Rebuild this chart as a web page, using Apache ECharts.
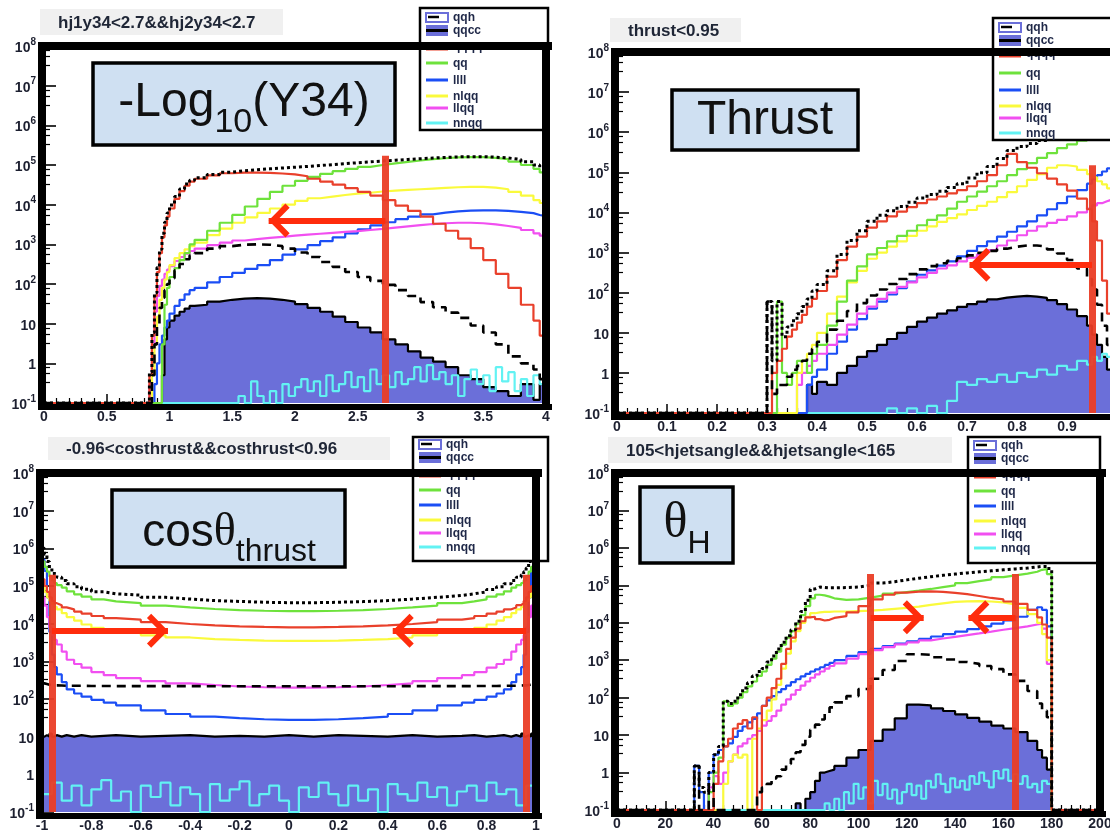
<!DOCTYPE html>
<html>
<head>
<meta charset="utf-8">
<title>Higgs selection cut distributions</title>
<script src="https://cdn.jsdelivr.net/npm/echarts@6/dist/echarts.min.js"></script>
<style>
html,body{margin:0;padding:0;background:#ffffff;}
#chart{width:1110px;height:834px;}
</style>
</head>
<body>
<div id="chart"></div>
<script>
// ================= DATA =================
const LEGEND_NAMES = ['qqh', 'qqcc', 'qqqq', 'qq', 'llll', 'nlqq', 'llqq', 'nnqq'];
const PANEL_TITLES = ['hj1y34<2.7&&hj2y34<2.7', 'thrust<0.95', '-0.96<costhrust&&costhrust<0.96', '105<hjetsangle&&hjetsangle<165'];
const X_RANGES = [[0, 4, 0.5], [0, 1, 0.1], [-1, 1, 0.2], [0, 200, 20]];
const Y_RANGE = [0.1, 1e8];
const CUT_LINES = [[2.72], [0.95], [-0.96, 0.96], [105, 165]];
const CUT_TOPS = [170000, 150000, 200000, 200000];
const ARROWS = [[[2.72, 1.79, 4000]], [[0.95, 0.705, 500]], [[-0.96, -0.49, 6500], [0.96, 0.42, 6500]], [[105, 127, 14000], [165, 145.5, 14000]]];

// ---- Panel 1 : -log10(Y34) ----
const P1_X = [0,0.84,0.86,0.88,0.9,0.92,0.94,0.96,0.98,1.0,1.04,1.08,1.12,1.16,1.2,1.3,1.4,1.5,1.6,1.7,1.8,1.9,2.0,2.1,2.2,2.3,2.4,2.5,2.6,2.7,2.8,2.9,3.0,3.1,3.2,3.3,3.4,3.5,3.6,3.7,3.8,3.9,3.95,4.0];
const P1_TOTAL = [0.1,0.6,6,60,260,750,1900,3600,6200,9800,16000,25000,33000,41000,48000,58000,66000,72000,76000,80000,84000,88000,92000,97000,102000,108000,114000,120000,126000,132000,138000,144000,150000,155000,160000,162000,162000,158000,150000,138000,120000,100000,85000,85000];
const P1_QQQQ = [0.1,0.5,5,50,200,600,1500,3000,5000,8000,14000,22000,30000,38000,45000,55000,62000,64000,64000,63000,61000,58000,52000,45000,38000,32000,26000,21000,17000,13000,9500,7000,5000,3300,2200,1400,800,400,180,80,30,12,5,5];
const P1_QQ = [0.1,0.1,0.1,0.1,0.1,0.1,3,30,80,150,250,400,600,1000,1300,2200,3500,5500,9000,14000,21000,30000,40000,50000,60000,70000,80000,90000,100000,110000,120000,130000,140000,148000,155000,158000,158000,152000,140000,122000,100000,80000,65000,60000];
const P1_NLQQ = [0.1,0.1,0.5,3,15,40,80,130,200,300,450,600,750,900,1100,1700,2500,3500,4800,6200,8000,10000,12500,14500,16000,17500,19000,20000,21500,22500,23500,24500,25500,26500,27500,28000,28000,27000,24500,21000,17000,13000,11000,10000];
const P1_LLQQ = [0.1,0.3,3,20,50,90,130,180,230,280,380,480,580,680,780,950,1100,1250,1350,1450,1550,1650,1750,1850,1950,2050,2150,2300,2450,2650,2850,3050,3250,3400,3500,3500,3400,3200,2900,2600,2300,1900,1650,1600];
const P1_LLLL = [0.1,0.1,0.1,0.3,1,3,5,8,12,18,28,40,55,70,80,110,150,190,240,300,400,550,750,950,1200,1500,1900,2400,3000,3600,4300,5000,5700,6300,6800,7100,7200,7200,7000,6600,6100,5500,5100,5000];
const P1_QQH = [0.1,0.1,0.5,3,10,25,45,70,100,140,220,320,420,520,600,780,900,980,1000,980,900,780,620,480,360,270,200,150,120,95,70,50,35,26,19,14,9,6,3,1.5,1,0.7,0.4,0.4];
const P1_QQCC = [0.1,0.1,0.1,0.1,0.1,0.1,0.5,4,8,12,16,20,24,28,30,36,40,43,44,43,40,36,31,25,20,15,11,8,6,4,3,2,1.4,1.1,0.8,0.5,0.4,0.25,0.2,0.15,0.3,0.12,0.3,0.3];
const P1_NNQQ_X = [0,1.5,1.55,1.6,1.65,1.7,1.75,1.8,1.85,1.9,1.95,2.0,2.05,2.1,2.15,2.2,2.25,2.3,2.35,2.4,2.45,2.5,2.55,2.6,2.65,2.7,2.75,2.8,2.85,2.9,2.95,3.0,3.05,3.1,3.15,3.2,3.25,3.3,3.35,3.4,3.45,3.5,3.55,3.6,3.65,3.7,3.75,3.8,3.85,3.9,3.95,4.0];
const P1_NNQQ = [0.1,0.1,0.15,0.1,0.35,0.15,0.1,0.2,0.1,0.3,0.15,0.25,0.4,0.2,0.35,0.15,0.5,0.2,0.3,0.6,0.25,0.45,0.2,0.7,0.3,0.5,0.25,0.6,0.3,0.4,0.8,0.35,0.9,0.4,0.6,0.3,0.5,0.15,0.4,0.7,0.3,0.5,0.2,0.8,0.35,0.6,0.2,0.4,0.15,0.5,0.3,0.3];

// ---- Panel 2 : thrust ----
const P2_X = [0,0.30,0.31,0.32,0.33,0.34,0.35,0.36,0.37,0.38,0.39,0.40,0.42,0.44,0.46,0.48,0.50,0.52,0.54,0.56,0.58,0.60,0.62,0.64,0.66,0.68,0.70,0.72,0.74,0.76,0.78,0.80,0.82,0.84,0.86,0.88,0.90,0.92,0.94,0.95,0.96,0.97,0.98,0.99,1.00];
const P2_TOTAL = [0.1,60,2,60,8,14,20,30,45,70,110,160,350,900,2000,3500,6000,8500,11000,14000,18000,23000,28000,34000,42000,52000,72000,98000,140000,220000,350000,440000,520000,620000,760000,900000,1050000,1250000,1450000,1600000,1750000,1900000,2050000,2200000,2200000];
const P2_QQQQ = [0.1,0.1,1,2,4,8,12,18,28,45,70,110,250,650,1400,2500,4200,6000,8000,10500,13500,17000,21000,25000,30000,36000,45000,60000,85000,150000,290000,180000,130000,95000,70000,50000,35000,22000,12000,6000,2000,200,30,10,10];
const P2_QQ = [0.1,0.1,0.1,60,1,0.5,1,2,2,1,3,5,15,60,200,450,900,1300,1900,2600,3500,4800,6500,8500,12500,18500,25000,33000,45000,60000,85000,120000,170000,230000,300000,400000,500000,620000,800000,950000,1100000,1250000,1400000,1600000,1600000];
const P2_NLQQ = [0.1,0.1,0.1,0.1,0.1,0.1,0.1,1,2,3,5,10,30,80,180,350,700,1000,1400,1900,2600,3500,4500,5800,7200,9000,11500,14500,18500,24000,32000,45000,65000,90000,130000,150000,140000,115000,90000,75000,60000,50000,40000,35000,35000];
const P2_LLQQ = [0.1,0.1,0.1,0.1,0.1,0.1,0.1,0.5,1,1.5,2,3,5,9,16,30,45,70,100,140,180,240,310,400,480,600,750,900,1150,1500,2000,2700,3500,4500,5500,6500,8000,10000,12500,15000,17000,19000,21000,23000,23000];
const P2_LLLL = [0.1,0.1,0.1,0.1,0.1,0.1,0.1,0.1,0.1,0.5,0.8,1.2,3,6,12,22,40,60,90,130,190,280,360,470,600,800,1100,1450,1900,2500,3300,4500,6000,8500,12000,17000,25000,36000,52000,68000,85000,105000,125000,150000,150000];
const P2_QQH = [0.1,60,0.3,0.5,0.5,0.8,1.2,1.5,2,3,4,6,12,20,35,55,85,120,165,220,290,380,460,540,620,720,850,980,1100,1250,1400,1500,1500,1400,1200,950,650,400,220,120,50,15,5,2,2];
const P2_QQCC = [0.1,0.1,0.1,0.1,0.1,0.1,0.1,0.1,0.1,0.5,0.3,0.6,0.5,1,1.5,2.5,3.5,5,7,10,14,19,24,30,36,44,52,60,68,75,80,83,80,74,65,52,38,26,15,9,5,2.5,1.2,0.6,0.6];
const P2_NNQQ = [0.1,0.1,0.1,0.1,0.1,0.1,0.1,0.1,0.1,0.1,0.1,0.1,0.1,0.1,0.1,0.1,0.1,0.1,0.13,0.1,0.13,0.1,0.15,0.1,0.2,0.6,0.5,0.7,0.6,0.9,0.6,1,0.8,1.2,0.9,1.5,1.2,2,1.6,2.5,2,3,2.5,2.5,2.5];

// ---- Panel 3 : cos(theta_thrust) ----
const P3_X = [-1,-0.99,-0.98,-0.97,-0.96,-0.95,-0.94,-0.92,-0.9,-0.87,-0.84,-0.8,-0.75,-0.7,-0.6,-0.5,-0.4,-0.3,-0.2,-0.1,0,0.1,0.2,0.3,0.4,0.5,0.6,0.7,0.75,0.8,0.84,0.87,0.9,0.92,0.94,0.95,0.96,0.97,0.98,0.99,1.0];
const P3_TOTAL = [1000000,700000,450000,300000,240000,200000,170000,140000,115000,95000,82000,70000,62000,57000,50000,45000,41000,39000,37000,36000,36000,37000,38500,41000,45000,50000,56000,62000,70000,81000,95000,115000,140000,170000,200000,240000,300000,450000,700000,1000000,1000000];
const P3_QQ = [450000,320000,240000,180000,140000,120000,105000,90000,72000,60000,52000,44000,39000,35000,30000,27000,24500,23000,22000,21500,21500,22000,23000,24500,27000,30000,35000,39000,44000,52000,60000,72000,90000,105000,120000,140000,180000,240000,320000,450000,450000];
const P3_QQQQ = [150000,100000,70000,50000,40000,35000,31000,27000,24000,21000,18500,16000,14000,12800,11000,9800,9000,8500,8200,8000,8000,8200,8500,9000,9800,11000,12800,14000,16000,18500,21000,24000,27000,31000,35000,40000,50000,70000,100000,150000,150000];
const P3_NLQQ = [100000,70000,50000,40000,33000,28000,24000,19000,15000,12000,9500,7800,6600,5800,4900,4300,3900,3700,3550,3500,3500,3550,3700,3900,4300,4900,5800,6600,7800,9500,12000,15000,19000,24000,28000,33000,40000,50000,70000,100000,100000];
const P3_LLQQ = [50000,30000,15000,8000,5000,3700,2800,1800,1100,850,680,520,430,360,300,260,235,215,205,200,200,205,215,235,260,300,360,430,520,680,850,1100,1800,2800,3700,5000,8000,15000,30000,50000,50000];
const P3_LLLL = [500000,250000,50000,6000,1500,700,450,280,180,140,115,95,80,68,50,40,34,31,29,28,28,29,31,34,40,50,68,80,95,115,140,180,280,450,700,1500,6000,50000,250000,500000,500000];
const P3_QQH = [260,250,240,235,230,230,228,225,225,225,222,222,220,220,220,220,218,218,218,218,218,218,218,218,220,220,220,220,222,222,225,225,225,228,230,230,235,240,250,260,260];
const P3_QQCC = [10,11,10,12,10,11,10,11,10,11,10,10.5,11,10,10.5,11,10,10.5,10,11,10,11,10.5,10,11,10,10.5,11,10,10.5,11,10,11,10,12,10,11,10,12,10,10];
const P3_NNQQ_X = [-1,-0.96,-0.92,-0.88,-0.84,-0.8,-0.76,-0.72,-0.68,-0.64,-0.6,-0.56,-0.52,-0.48,-0.44,-0.4,-0.36,-0.32,-0.28,-0.24,-0.2,-0.16,-0.12,-0.08,-0.04,0,0.04,0.08,0.12,0.16,0.2,0.24,0.28,0.32,0.36,0.4,0.44,0.48,0.52,0.56,0.6,0.64,0.68,0.72,0.76,0.8,0.84,0.88,0.92,0.96,1.0];
const P3_NNQQ = [0.3,0.6,0.2,0.5,0.15,0.4,0.7,0.2,0.35,0.1,0.5,0.25,0.6,0.15,0.45,0.3,0.1,0.55,0.2,0.4,0.65,0.15,0.3,0.5,0.2,0.1,0.45,0.25,0.6,0.3,0.15,0.5,0.2,0.4,0.1,0.55,0.3,0.2,0.6,0.25,0.45,0.15,0.35,0.5,0.2,0.6,0.3,0.4,0.15,0.5,0.5];

// ---- Panel 4 : theta_H ----
const P4_X = [0,32,34,36,38,40,42,44,46,48,50,52,54,56,58,60,62,64,66,68,70,72,74,76,78,80,82,84,86,88,90,95,100,105,110,115,120,125,130,135,140,145,150,155,160,165,170,174,176,178,180,182,200];
const P4_TOTAL = [0.1,1.5,0.4,0.3,1,3,5,80,70,80,120,180,250,380,500,600,900,1300,2000,3000,4500,6500,11000,20000,40000,80000,90000,88000,86000,86000,87000,90000,100000,115000,125000,140000,155000,170000,185000,200000,215000,230000,245000,260000,275000,290000,310000,320000,320000,280000,0.1,0.1,0.1];
const P4_QQ = [0.1,0.1,0.1,0.1,0.3,1,2.5,80,60,70,100,140,200,270,380,500,750,1100,1700,2600,4000,6000,9500,16000,28000,45000,56000,54000,50000,45000,41000,42000,47000,53000,60000,66000,72000,80000,90000,100000,115000,130000,145000,165000,185000,205000,230000,260000,270000,200000,0.1,0.1,0.1];
const P4_QQQQ = [0.1,0.1,0.1,0.1,0.1,0.5,2,5,8,15,20,25,15,30,0.1,60,100,180,320,800,2000,4000,7000,11000,14000,14500,12500,11500,12000,13500,15000,19000,28000,42000,56000,64000,68000,69000,67000,63000,58000,52000,46000,42000,37000,32000,22000,14000,9000,4000,0.1,0.1,0.1];
const P4_NLQQ = [0.1,0.1,0.1,0.1,0.1,0.1,0.1,0.5,2,3,2.5,3,0.1,8,15,25,45,90,220,600,1500,3200,6000,10000,14500,18000,19000,19500,19500,20000,20000,20500,21000,22000,23500,25000,27000,30000,33000,36000,37500,38000,37000,35000,31000,25000,17000,10000,5000,1000,0.1,0.1,0.1];
const P4_LLLL = [0.1,1.5,0.3,0.1,1,3,4,5,6,9,13,17,22,27,38,60,85,110,140,170,210,260,310,370,430,500,570,650,750,850,1000,1300,1650,2000,2400,2800,3200,3700,4300,5000,5800,6800,8000,9500,11500,14500,22000,26000,22000,8000,0.1,0.1,0.1];
const P4_LLQQ = [0.1,0.1,0.1,0.1,0.4,0.8,0.5,1,2,3,5,6,8,10,13,18,24,32,45,65,90,120,160,210,270,340,420,500,600,700,820,1100,1450,1850,2250,2650,3000,3400,3800,4200,4700,5200,5800,6500,7200,8000,9000,9500,7000,800,0.1,0.1,0.1];
const P4_QQH = [0.1,1.5,0.1,0.1,0.5,0.1,0.1,0.1,0.1,0.1,0.1,0.1,0.1,0.1,0.3,0.4,0.5,0.7,0.8,1.2,1.7,2.3,3.5,5.5,9,14,19,26,38,55,75,110,170,320,550,950,1450,1400,1200,1050,900,800,700,580,420,280,150,70,45,30,0.1,0.1,0.1];
const P4_QQCC = [0.1,0.1,0.1,0.1,0.1,0.1,0.1,0.1,0.1,0.1,0.1,0.1,0.1,0.1,0.1,0.1,0.1,0.1,0.1,0.1,0.1,0.1,0.15,0.1,0.2,0.3,0.6,1,1.1,1.2,1.5,2.5,4,7,14,28,65,62,52,44,36,29,23,18,15,12,7,4,2.5,1.2,0.1,0.1,0.1];
const P4_NNQQ_X = [0,84,86,88,90,92,94,96,98,100,102,104,106,108,110,112,114,116,118,120,122,124,126,128,130,132,134,136,138,140,142,144,146,148,150,152,154,156,158,160,162,164,166,168,170,172,174,176,178,180,200];
const P4_NNQQ = [0.1,0.1,0.15,0.1,0.2,0.1,0.3,0.15,0.5,0.2,0.4,0.15,0.6,0.25,0.5,0.2,0.35,0.15,0.3,0.5,0.25,0.45,0.2,0.6,0.4,0.9,0.5,0.3,0.7,0.4,0.6,0.35,0.8,0.5,1.0,0.6,0.4,1.1,0.7,1.2,0.6,0.9,0.5,0.8,0.4,0.5,0.3,0.6,0.5,0.1,0.1];

// ================= LAYOUT / STYLE =================
const GRIDS = [[44, 46, 502, 357], [617, 52, 500, 361], [42, 473, 494, 339], [617, 473, 483, 337]];
const C = { red: '#e9402b', green: '#6ee23c', blue: '#1b4ef5', yellow: '#fafa3c', magenta: '#f14ff0', cyan: '#62f2f3', fill: '#6b6fd9', cut: '#ea3d26', arrow: '#ff2c0c' };
const FONT = "'Liberation Sans', Arial, Helvetica, sans-serif";
const LBL = '#1d2030';

const PANELS = [
  { x: P1_X, cx: P1_NNQQ_X, total: P1_TOTAL, qqqq: P1_QQQQ, qq: P1_QQ, nlqq: P1_NLQQ, llqq: P1_LLQQ, llll: P1_LLLL, qqh: P1_QQH, qqcc: P1_QQCC, nnqq: P1_NNQQ },
  { x: P2_X, cx: P2_X, total: P2_TOTAL, qqqq: P2_QQQQ, qq: P2_QQ, nlqq: P2_NLQQ, llqq: P2_LLQQ, llll: P2_LLLL, qqh: P2_QQH, qqcc: P2_QQCC, nnqq: P2_NNQQ },
  { x: P3_X, cx: P3_NNQQ_X, total: P3_TOTAL, qqqq: P3_QQQQ, qq: P3_QQ, nlqq: P3_NLQQ, llqq: P3_LLQQ, llll: P3_LLLL, qqh: P3_QQH, qqcc: P3_QQCC, nnqq: P3_NNQQ },
  { x: P4_X, cx: P4_NNQQ_X, total: P4_TOTAL, qqqq: P4_QQQQ, qq: P4_QQ, nlqq: P4_NLQQ, llqq: P4_LLQQ, llll: P4_LLLL, qqh: P4_QQH, qqcc: P4_QQCC, nnqq: P4_NNQQ }
];

function hist(k, name, xs, ys, o) {
  const s = {
    type: 'line', name: name, xAxisIndex: k, yAxisIndex: k,
    data: xs.map((x, i) => [x, ys[i]]),
    step: 'end', symbol: 'none', showSymbol: false, silent: true, animation: false, clip: true,
    lineStyle: { color: o.color, width: o.width || 2.2, type: o.type || 'solid' },
    itemStyle: { color: o.color }, z: 2
  };
  if (o.area) s.areaStyle = { color: C.fill, opacity: 1, origin: 'start' };
  return s;
}

const CHEVRON = 'path://M0,-20L0,-20ZM0,0L16,16L12,20L0,8L-12,20L-16,16Z';

function marks(k) {
  const d = [];
  CUT_LINES[k].forEach(x => d.push([
    { coord: [x, Y_RANGE[0]], symbol: 'none', lineStyle: { color: C.cut, width: 7, type: 'solid', opacity: 0.95 } },
    { coord: [x, CUT_TOPS[k]], symbol: 'none' }
  ]));
  ARROWS[k].forEach(a => d.push([
    { coord: [a[0], a[2]], symbol: 'none', lineStyle: { color: C.arrow, width: 6, type: 'solid' } },
    { coord: [a[1], a[2]], symbol: CHEVRON, symbolSize: [34, 42] }
  ]));
  return { silent: true, animation: false, label: { show: false }, symbol: ['none', 'none'], lineStyle: { type: 'solid' }, emphasis: { disabled: true }, data: d };
}

const series = [];
PANELS.forEach((p, k) => {
  series.push(hist(k, 'qqcc', p.x, p.qqcc, { color: '#000', width: 2.2, area: true }));
  series.push(hist(k, 'nnqq', p.cx, p.nnqq, { color: C.cyan }));
  series.push(hist(k, 'llll', p.x, p.llll, { color: C.blue }));
  series.push(hist(k, 'llqq', p.x, p.llqq, { color: C.magenta }));
  series.push(hist(k, 'nlqq', p.x, p.nlqq, { color: C.yellow }));
  series.push(hist(k, 'qq', p.x, p.qq, { color: C.green }));
  series.push(hist(k, 'qqqq', p.x, p.qqqq, { color: C.red }));
  series.push(hist(k, 'qqh', p.x, p.qqh, { color: '#000', type: [9, 6], width: 2.6 }));
  const tot = hist(k, 'total', p.x, p.total, { color: '#000', type: [3, 3], width: 3 });
  tot.markLine = marks(k);
  series.push(tot);
});

function yFmt(v) {
  const e = Math.round(Math.log10(v));
  if (e === 0) return '{b|1}';
  if (e === 1) return '{b|10}';
  return '{b|10}{s|' + e + '}';
}

const grids = GRIDS.map(g => ({ left: g[0], top: g[1], width: g[2], height: g[3], containLabel: false, outerBoundsMode: 'none', show: false }));
const xAxes = GRIDS.map((g, k) => ({
  gridIndex: k, type: 'value', min: X_RANGES[k][0], max: X_RANGES[k][1], interval: X_RANGES[k][2],
  axisLine: { show: false, onZero: false }, splitLine: { show: false },
  axisTick: { show: true, inside: true, length: 9, lineStyle: { color: '#000', width: 1.5 } },
  minorTick: { show: true, splitNumber: 5, length: 5, lineStyle: { color: '#000', width: 1.2 } },
  axisLabel: { color: LBL, fontSize: 14, fontWeight: 'bold', fontFamily: FONT, margin: 7, showMaxLabel: true }
}));
const yAxes = GRIDS.map((g, k) => ({
  gridIndex: k, type: 'log', logBase: 10, min: Y_RANGE[0], max: Y_RANGE[1], splitNumber: 9,
  axisLine: { show: false, onZero: false }, splitLine: { show: false },
  axisTick: { show: true, inside: true, length: 12, lineStyle: { color: '#000', width: 1.6 } },
  minorTick: { show: true, splitNumber: 4, length: 6, lineStyle: { color: '#000', width: 1.2 } },
  axisLabel: {
    margin: 8, formatter: yFmt,
    rich: {
      b: { fontSize: 14, fontWeight: 'bold', color: LBL, fontFamily: FONT, lineHeight: 18, verticalAlign: 'bottom' },
      s: { fontSize: 10, fontWeight: 'bold', color: LBL, fontFamily: FONT, lineHeight: 10, verticalAlign: 'top' }
    }
  }
}));

// ---------- graphic decorations ----------
const G = [];
// title boxes
const TITLE_BOXES = [[40, 9, 243, 26], [610, 18, 131, 24], [48, 437, 342, 23], [608, 437, 344, 26]];
TITLE_BOXES.forEach((b, k) => {
  G.push({ type: 'rect', shape: { x: b[0], y: b[1], width: b[2], height: b[3] }, style: { fill: '#f0f0f0' }, z: 20, silent: true });
  G.push({ type: 'text', x: b[0] + 18, y: b[1] + b[3] / 2 + 1, style: { text: PANEL_TITLES[k], fill: '#1f2636', font: 'bold 17px ' + FONT, verticalAlign: 'middle', align: 'left' }, z: 21, silent: true });
});

// legends
const LEG_BOXES = [[420, 8, 128, 122], [993, 18, 130, 122], [413, 437, 135, 124], [968, 437, 132, 126]];
const LEG_OFFS = [[9, 22, 38, 55, 72, 88, 100, 115], [9, 22, 35, 55, 72, 88, 100, 115], [7, 20, 36, 53, 68, 83, 96, 110], [8, 21, 37, 54, 69, 84, 97, 111]];
const LEG_COLORS = [null, null, null, C.green, C.blue, C.yellow, C.magenta, C.cyan];
LEG_BOXES.forEach((b, k) => {
  const bx = b[0], by = b[1];
  G.push({ type: 'rect', shape: { x: bx, y: by, width: b[2], height: b[3] }, style: { fill: '#fff', stroke: '#000', lineWidth: 2.5 }, z: 22, silent: true });
  LEGEND_NAMES.forEach((nm, i) => {
    const y = by + LEG_OFFS[k][i];
    const x1 = bx + 6, x2 = bx + 28;
    if (i === 0) {
      G.push({ type: 'rect', shape: { x: x1, y: y - 4, width: 22, height: 9 }, style: { fill: '#fff', stroke: C.fill, lineWidth: 2 }, z: 23, silent: true });
      G.push({ type: 'line', shape: { x1: x1 + 2, y1: y, x2: x1 + 13, y2: y }, style: { stroke: '#000', lineWidth: 2.5 }, z: 24, silent: true });
    } else if (i === 1) {
      G.push({ type: 'rect', shape: { x: x1, y: y - 5, width: 22, height: 11 }, style: { fill: C.fill }, z: 23, silent: true });
      G.push({ type: 'line', shape: { x1: x1, y1: y + 0.5, x2: x2, y2: y + 0.5 }, style: { stroke: '#000', lineWidth: 3 }, z: 24, silent: true });
    } else if (i === 2) {
      G.push({ type: 'line', shape: { x1: x1, y1: y - 2, x2: x2, y2: y - 2 }, style: { stroke: '#000', lineWidth: 3 }, z: 23, silent: true });
      G.push({ type: 'line', shape: { x1: x1, y1: y + 3, x2: x2, y2: y + 3 }, style: { stroke: C.red, lineWidth: 3 }, z: 23, silent: true });
    } else {
      G.push({ type: 'line', shape: { x1: x1, y1: y, x2: x2, y2: y }, style: { stroke: LEG_COLORS[i], lineWidth: 3 }, z: 23, silent: true });
    }
    G.push({ type: 'text', x: bx + 33, y: y + 1, style: { text: nm, fill: '#1e2747', font: 'bold 12px ' + FONT, verticalAlign: 'middle' }, z: 24, silent: true });
  });
});

// variable label boxes
const LBOX = { fill: '#cfe0f2', stroke: '#000', lineWidth: 3.5 };
G.push({ type: 'rect', shape: { x: 93, y: 63, width: 302, height: 82 }, style: LBOX, z: 20, silent: true });
G.push({ type: 'text', x: 244, y: 79, z: 21, silent: true, style: {
  text: '{m|-Log}{s|10}{m|(Y34)}', align: 'center', verticalAlign: 'top',
  rich: { m: { fontSize: 48, fontFamily: FONT, fill: '#111', lineHeight: 52, verticalAlign: 'top' },
          s: { fontSize: 34, fontFamily: FONT, fill: '#111', lineHeight: 88 } } } });
G.push({ type: 'rect', shape: { x: 672, y: 90, width: 186, height: 60 }, style: LBOX, z: 20, silent: true });
G.push({ type: 'text', x: 765, y: 121, z: 21, silent: true, style: { text: 'Thrust', font: '48px ' + FONT, fill: '#111', align: 'center', verticalAlign: 'middle' } });
G.push({ type: 'rect', shape: { x: 112, y: 490, width: 233, height: 77 }, style: LBOX, z: 20, silent: true });
G.push({ type: 'text', x: 229, y: 510, z: 21, silent: true, style: {
  text: '{m|cos}{t|θ}{s|thrust}', align: 'center', verticalAlign: 'top',
  rich: { m: { fontSize: 46, fontFamily: FONT, fill: '#111', lineHeight: 50, verticalAlign: 'top' },
          t: { fontSize: 46, fontFamily: "'Liberation Serif', 'DejaVu Serif', serif", fill: '#111', lineHeight: 50, verticalAlign: 'top' },
          s: { fontSize: 32, fontFamily: FONT, fill: '#111', lineHeight: 84 } } } });
G.push({ type: 'rect', shape: { x: 640, y: 487, width: 93, height: 76 }, style: LBOX, z: 20, silent: true });
G.push({ type: 'text', x: 687, y: 499, z: 21, silent: true, style: {
  text: '{t|θ}{s|H}', align: 'center', verticalAlign: 'top',
  rich: { t: { fontSize: 50, fontFamily: "'Liberation Serif', 'DejaVu Serif', serif", fill: '#111', lineHeight: 54, verticalAlign: 'top' },
          s: { fontSize: 32, fontFamily: FONT, fill: '#111', lineHeight: 90 } } } });

// thick frames (drawn on top)
GRIDS.forEach(g => {
  const L = g[0], T = g[1], R = g[0] + g[2], B = g[1] + g[3];
  const band = (x, y, w, h) => G.push({ type: 'rect', shape: { x: x, y: y, width: w, height: h }, style: { fill: '#000' }, z: 30, silent: true });
  band(L - 6, T - 4, R - L + 12, 8);
  band(L - 6, T - 4, 8, B - T + 11);
  band(R - 4, T - 4, 8, B - T + 11);
  band(L - 6, B + 1, R - L + 12, 6);
});

const chart = echarts.init(document.getElementById('chart'), null, { renderer: 'canvas' });
chart.setOption({
  animation: false,
  backgroundColor: '#ffffff',
  grid: grids,
  xAxis: xAxes,
  yAxis: yAxes,
  series: series,
  graphic: G
});
</script>
</body>
</html>
